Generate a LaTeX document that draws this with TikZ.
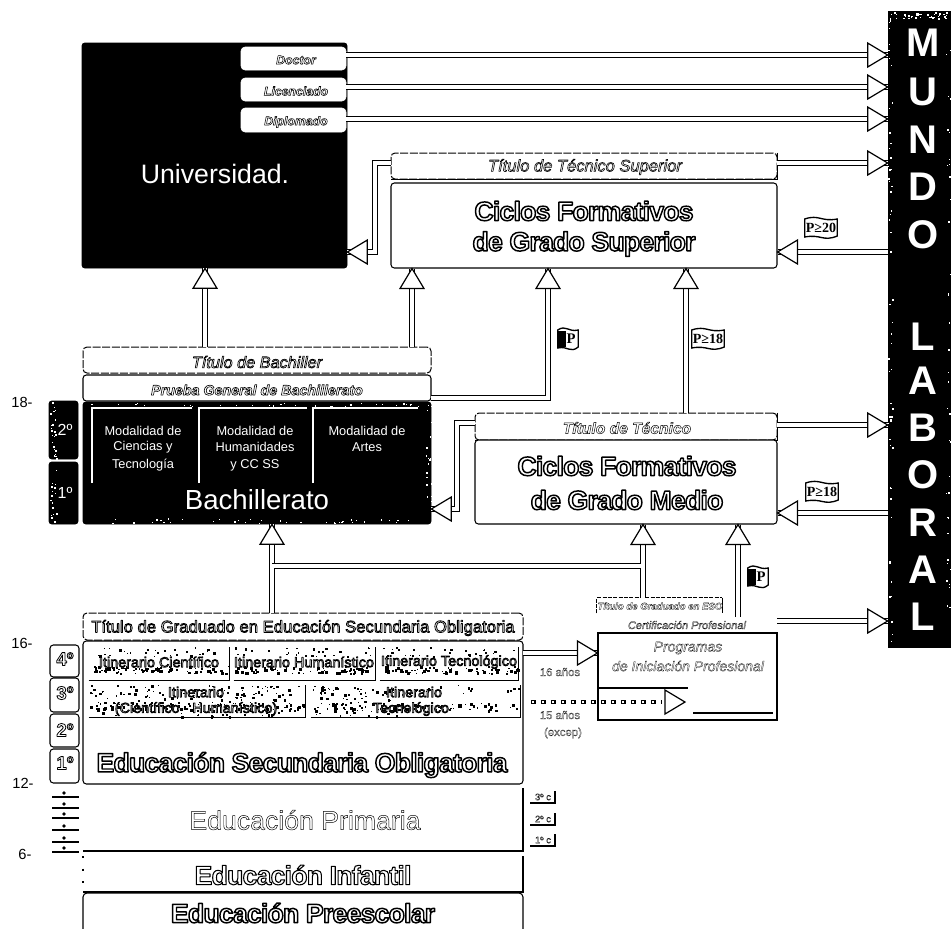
\documentclass[tikz,border=0pt]{standalone}
\usepackage{fontspec}
\setmainfont{Liberation Sans}
\newfontfamily\serifflag{Liberation Serif}
\newfontfamily\tight[LetterSpace=-3,UprightFont=* Bold]{Liberation Sans}
\usetikzlibrary{calc,decorations.markings}
\newcommand\ol[2][0.7]{{\color{white}\special{pdf:code 2 Tr #1 w 1 j 0 0 0 RG}#2\special{pdf:code 0 Tr}}}
\newcommand\speck[7]{\foreach \i in {1,...,#5}{\pgfmathsetmacro\skx{#1+rnd*(#3-#1)}\pgfmathsetmacro\sky{#2+rnd*(#4-#2)}\pgfmathsetmacro\sks{#7*(0.4+rnd)}\fill[#6] (\skx,\sky) rectangle ++(\sks,\sks);}}
% box: style, name, x1,y1,x2,y2
\newcommand\bx[6]{\node[#1,minimum width={(#5-#3)*0.75pt},minimum height={(#6-#4)*0.75pt}] (#2) at ({(#3+#5)/2},{(#4+#6)/2}) {};}
\newcommand\fs[1]{\fontsize{#1}{#1}\selectfont}
\newcommand\flagshape[1]{($(#1.west)+(0,-9)$) .. controls ($(#1.north)+(-2,-7)$) and ($(#1.north)+(0,1)$) .. ($(#1.east)+(0,-9)$) -- ($(#1.east)+(0,8)$) .. controls ($(#1.south)+(2,7)$) and ($(#1.south)+(0,-1)$) .. ($(#1.west)+(0,9)$) -- cycle}
\newcommand\flag[5]{% name,x,y,halfwidth,text
  \node[inner sep=0,minimum width={2*#4*0.75pt},minimum height=10pt] (#1) at (#2,#3) {};
  \draw[line width=1pt,fill=white] \flagshape{#1};
  \node[lbl,font=\serifflag\bfseries\fs{10.5}] at (#1.center) {#5};}
\newcommand\pflag[4]{% name,x,y,halfwidth : black left side, P on the right
  \node[inner sep=0,minimum width={2*#4*0.75pt},minimum height=11pt] (#1) at (#2,#3) {};
  \draw[line width=1pt,fill=white] \flagshape{#1};
  \fill ($(#1.west)+(0,-8)$) rectangle ($(#1.center)+(-2,8)$);
  \node[lbl,font=\serifflag\bfseries\fs{11}] at ($(#1.center)+(3,0)$) {P};}
\tikzset{
  lbl/.style={inner sep=0,align=center},
  edge/.style={draw=black,line width=0.8pt},
  solidbox/.style={edge,rounded corners=2.5pt,inner sep=0,fill=white},
  titlebox/.style={draw=black,line width=0.75pt,dash pattern=on 6pt off 1.2pt,rounded corners=3pt,inner sep=0,fill=white},
  blackbox/.style={draw=black,fill=black,rounded corners=2pt,inner sep=0,line width=0.5pt},
  whitebox/.style={fill=white,draw=white,rounded corners=3pt,inner sep=0},
  pipe/.style={preaction={draw=black,line width=4.7pt},draw=white,line width=2.7pt},
  harrow/.style={pipe,postaction={decorate,decoration={markings,mark=at position 1 with {\draw[black,fill=white,line width=0.9pt,miter limit=3] (-15pt,-9pt)--(0,0)--(-15pt,9pt)--cycle;}}}},
  core/.style={draw=white,line width=2.7pt},
}
\begin{document}
\begin{tikzpicture}[x=0.75pt,y=-0.75pt]
\useasboundingbox (0,0) rectangle (951,929);
\pgfmathsetseed{4711}
% MUNDO LABORAL
\bx{blackbox,rounded corners=0pt}{mundo}{888}{11}{951}{647}
\speck{890}{12}{950}{18}{35}{white}{1.6}
\speck{888}{18}{892}{647}{60}{white}{1.4}
\speck{946}{18}{951}{647}{40}{white}{1.4}
\foreach \n/\l/\yy in {m1/M/43,m2/U/92,m3/N/140,m4/D/187,m5/O/235,m6/L/337,m7/A/381,m8/B/428,m9/O/475,m10/R/523,m11/A/570,m12/L/617}{
  \node[lbl,text=white,font=\bfseries\fs{30}] (\n) at (923,\yy) {\l};
}
% Universidad
\bx{blackbox}{uni}{82}{43}{347}{268}
\bx{whitebox}{doctor}{241}{47}{346}{70}
\bx{whitebox}{lic}{241}{78}{346}{101}
\bx{whitebox}{dipl}{241}{108}{346}{132}
\node[lbl,font=\itshape\bfseries\fs{9.2}] at (296,60) {\ol[0.4]{Doctor}};
\node[lbl,font=\itshape\bfseries\fs{9.2}] at (296,91) {\ol[0.4]{Licenciado}};
\node[lbl,font=\itshape\bfseries\fs{9.2}] at (296,122) {\ol[0.4]{Diplomado}};
\node[lbl,text=white,font=\fs{20}] (unitext) at (215,174) {Universidad.};
% Ciclos superior
\bx{titlebox}{tsup}{391}{153}{777}{179}
\draw[edge] (tsup.north east) -- (tsup.south east) -- (tsup.south west);
\bx{solidbox}{csup}{391}{183}{777}{268}
\node[lbl,font=\fs{12.4}\itshape] (tsupt) at (585,167) {\ol[0.45]{Título de Técnico Superior}};
\node[lbl,font=\tight\fs{20}] (c1) at (584,211) {\ol[1.1]{Ciclos Formativos}};
\node[lbl,font=\tight\fs{20}] (c2) at (584,244) {\ol[1.1]{de Grado Superior}};
% Bachiller
\bx{titlebox}{tbach}{83}{347}{431}{373}
\bx{solidbox}{prueba}{83}{375}{431}{401}
\bx{blackbox}{bach}{83}{402}{431}{524}
\bx{blackbox}{yb2}{49}{401}{78}{459}
\bx{blackbox}{yb1}{49}{462}{78}{524}
\speck{50}{402}{56}{522}{40}{white}{1.5}
\speck{85}{403}{430}{406}{30}{white}{1.1}
\speck{110}{518}{430}{523}{40}{white}{1.2}
\speck{425}{403}{431}{523}{18}{white}{1.5}
\node[lbl,font=\fs{12.2}] at (257,362) {\ol[0.5]{\itshape Título de Bachiller}};
\node[lbl,font=\fs{10.7}\bfseries\itshape] at (257,390) {\ol[0.45]{Prueba General de Bachillerato}};
\node[lbl,text=white,font=\fs{12}] at (65,430) {2º};
\node[lbl,text=white,font=\fs{12}] at (65,493) {1º};
\coordinate (mtop1) at (92,408); \coordinate (mtop2) at (199,408); \coordinate (mtop3) at (313,408);
\draw[white,line width=0.8pt] (92,483) -- (mtop1) -- (192,408) (199,483) -- (mtop2) -- (307,408) (313,483) -- (mtop3) -- (418,408);
\node[lbl,text=white,font=\fs{9.6}] at (143,431) {Modalidad de};
\node[lbl,text=white,font=\fs{9.6}] at (143,447) {Ciencias y};
\node[lbl,text=white,font=\fs{9.6}] at (143,465) {Tecnología};
\node[lbl,text=white,font=\fs{9.6}] at (255,431) {Modalidad de};
\node[lbl,text=white,font=\fs{9.6}] at (255,447) {Humanidades};
\node[lbl,text=white,font=\fs{9.6}] at (255,465) {y  CC SS};
\node[lbl,text=white,font=\fs{9.6}] at (367,431) {Modalidad de};
\node[lbl,text=white,font=\fs{9.6}] at (367,447) {Artes};
\node[lbl,text=white,font=\fs{20.7}] at (257,500) {Bachillerato};
% Ciclos medio
\bx{titlebox}{ttec}{475}{413}{777}{440}
\draw[edge] (ttec.north east) -- (ttec.south east) -- (ttec.south west);
\bx{solidbox}{cmed}{475}{440}{777}{524}
\node[lbl,font=\fs{11.7}\bfseries\itshape] at (627,428) {\ol[0.35]{Título de Técnico}};
\node[lbl,font=\tight\fs{20}] at (627,466) {\ol[1.1]{Ciclos Formativos}};
\node[lbl,font=\tight\fs{20}] at (627,500) {\ol[1.1]{de Grado Medio}};
% ESO
\bx{titlebox}{tgrad}{83}{613}{523}{640}
\bx{solidbox}{eso}{83}{641}{523}{784}
\node[lbl,font=\fs{12.5}] at (303,628) {\ol[0.6]{Título de Graduado en Educación Secundaria Obligatoria}};
% Itinerarios
\foreach \n/\a/\b/\c/\d in {it1/89/647/229/680,it2/234/647/375/680,it3/380/647/518/680,it4/89/685/305/717,it5/311/685/520/717}{
  \bx{inner sep=0}{\n}{\a}{\b}{\c}{\d}
  \speck{\a}{\b}{\c}{\b+9}{28}{black}{2}
  \speck{\a}{\d-7}{\c}{\d}{70}{black}{2.4}
  \draw[edge] (\n.south west) -- (\n.south east) -- (\n.north east);
}
\speck{89}{685}{300}{717}{130}{black}{2}
\speck{311}{685}{400}{717}{80}{black}{2}
\node[lbl,font=\fs{10.8}] at (159,662) {\ol[0.55]{Itinerario Científico}};
\node[lbl,font=\fs{10.8}] at (304,662) {\ol[0.55]{Itinerario Humanístico}};
\node[lbl,font=\fs{10.8}] at (449,662) {\ol[0.55]{Itinerario Tecnológico}};
\node[lbl,font=\fs{10.8}] at (196,692) {\ol[0.55]{Itinerario}};
\node[lbl,font=\fs{10.8}] at (196,709) {\ol[0.55]{(Científico - Humanístico)}};
\node[lbl,font=\fs{10.8}] at (414,692) {\ol[0.55]{Itinerario}};
\node[lbl,font=\fs{10.8}] at (411,709) {\ol[0.55]{Tecnológico}};
\node[lbl,font=\tight\fs{20}] at (302,765) {\ol[1.1]{Educación Secundaria Obligatoria}};
% year boxes
\foreach \n/\a/\b/\t/\m in {y4/645/677/4º/659,y3/678/712/3º/693,y2/714/747/2º/730,y1/749/783/1º/763}{
  \bx{solidbox}{\n}{50}{\a}{79}{\b}
  \node[lbl,font=\bfseries\fs{14}] at (65,\m) {\ol[0.6]{\t}};
}
% Primaria, infantil, preescolar
\coordinate (prim-sw) at (83,851); \coordinate (prim-se) at (523,851); \coordinate (prim-ne) at (523,788);
\draw[edge] (prim-sw) -- (prim-se) -- (prim-ne);
\node[lbl,font=\fs{20}] at (305,820) {\ol[0.35]{Educación Primaria}};
\foreach \yy in {797,808,818,830,842,852}{
  \draw[edge] (52,\yy) -- (79,\yy);
  \fill (64,\yy-4) circle (1.8);
}
\foreach \yy/\t in {803/3º c,825/2º c,846/1º c}{
  \draw[edge] (530,\yy) -- (555,\yy) -- (555,\yy-12);
  \node[lbl,font=\fs{7}] at (543,\yy-6) {\ol[0.2]{\t}};
}
\coordinate (inf-nw) at (83,856); \coordinate (inf-sw) at (83,892); \coordinate (inf-se) at (523,892); \coordinate (inf-ne) at (523,856);
\draw[edge] (inf-sw) -- (inf-se) -- (inf-ne);
\draw[edge,dash pattern=on 1.5pt off 8pt] (inf-nw) -- (inf-sw);
\node[lbl,font=\tight\fs{20}] at (303,875) {\ol[0.8]{Educación Infantil}};
\coordinate (pre-sw) at (83,929); \coordinate (pre-nw) at (83,893); \coordinate (pre-ne) at (523,893); \coordinate (pre-se) at (523,929);
\draw[edge,rounded corners=3pt] (pre-sw) -- (pre-nw) -- (pre-ne) -- (pre-se);
\node[lbl,font=\tight\fs{20}] at (303,913) {\ol[1.1]{Educación Preescolar}};
% ages
\node[lbl,font=\fs{11}] at (22,402) {18-};
\node[lbl,font=\fs{11}] at (22,643) {16-};
\node[lbl,font=\fs{11}] at (23,783) {12-};
\node[lbl,font=\fs{11}] at (25,854) {6-};
% Programas
\bx{solidbox,rounded corners=0pt}{prog}{598}{633}{777}{720}
\node[lbl,font=\itshape\fs{10.5}] at (688,648) {\ol[0.2]{Programas}};
\node[lbl,font=\itshape\fs{10.5}] at (688,666) {\ol[0.2]{de Iniciación Profesional}};
\coordinate (pl1) at (598,688); \coordinate (pl2) at (688,688);
\draw[edge] (pl1) -- (pl2);
\coordinate (pb1) at (693,713); \coordinate (pb2) at (773,713);
\draw[edge] (pb1) -- (pb2);
\bx{draw=none,fill=white,inner sep=0}{tged}{597}{598}{722}{613}
\draw[edge,dash pattern=on 3pt off 1pt] (tged.south west) -- (tged.north west) -- (tged.north east);
\draw[edge] (tged.north east) -- (tged.south east);
\node[lbl,font=\bfseries\itshape\fs{7.2}] at (660,606) {\ol[0.2]{Título de Graduado en ESO}};
\node[lbl,font=\itshape\fs{8.2}] (cert) at (687,625) {\ol[0.2]{Certificación Profesional}};
\node[lbl,font=\fs{8.5}] at (560,672) {\ol[0.15]{16 años}};
\node[lbl,font=\fs{8.5}] at (560,715) {\ol[0.15]{15 años}};
\node[lbl,font=\fs{8.5}] at (563,733) {\ol[0.15]{(excep)}};
% connectors
\foreach \c/\yy/\n in {a1/55/doctor,a2/87/lic,a3/119/dipl}{
  \coordinate (\c) at (346,\yy);
  \draw[harrow] (\c) -- (\c -| mundo.west);
}
\coordinate (a4) at (777,163);
\draw[harrow] (a4) -- (a4 -| mundo.west);
\coordinate (a5) at (777,425);
\draw[harrow] (a5) -- (a5 -| mundo.west);
\coordinate (a6) at (777,621);
\draw[harrow] (a6) -- (a6 -| mundo.west);
\coordinate (b1) at (888,252);
\draw[harrow] (b1) -- (b1 -| csup.east);
\coordinate (b2) at (888,513);
\draw[harrow] (b2) -- (b2 -| cmed.east);
% Técnico superior to universidad
\coordinate (c1a) at (391,163); \coordinate (c1b) at (375,163); \coordinate (c1c) at (375,252);
\draw[harrow] (c1a) -- (c1b) -- (c1c) -- (c1c -| uni.east);
\coordinate (c2a) at (475,423); \coordinate (c2b) at (457,423); \coordinate (c2c) at (457,509);
\draw[harrow] (c2a) -- (c2b) -- (c2c) -- (c2c -| bach.east);
% bachiller up
\coordinate (d1) at (205,347);
\draw[harrow] (d1) -- (d1 |- uni.south);
\coordinate (d2) at (412,347);
\draw[harrow] (d2) -- (d2 |- csup.south);
\coordinate (d3a) at (431,398); \coordinate (d3b) at (548,398);
\draw[harrow] (d3a) -- (d3b) -- (d3b |- csup.south);
\coordinate (d4) at (686,413);
\draw[harrow] (d4) -- (d4 |- csup.south);
% ESO up
\coordinate (e1) at (272,613); \coordinate (e2) at (272,566); \coordinate (e3) at (643,566); \coordinate (e4) at (643,598);
\draw[harrow] (e1) -- (e1 |- bach.south);
\draw[harrow] (e2) -- (e3) -- (e3 |- cmed.south);
\draw[pipe] (e4) -- (e3);
\draw[core] (272,569) -- (e2) -- (275,566);
\draw[core] (643,569) -- (e3) -- (640,566);
\coordinate (f1) at (738,617);
\draw[harrow] (f1) -- (f1 |- cmed.south);
\coordinate (g1) at (523,653);
\draw[harrow] (g1) -- (g1 -| prog.west);
% dotted arrow
\coordinate (h1) at (531,702); \coordinate (h2) at (685,702);
\draw[black,fill=white,line width=0.9pt] (665,690) -- (h2) -- (665,714) -- cycle;
\draw[black,line width=3.2pt,dash pattern=on 3.4pt off 4.1pt] (h1) -- (662,702);
\draw[white,line width=1.3pt,dash pattern=on 1.4pt off 6.1pt,dash phase=-1pt] (h1) -- (662,702);
% flags
\flag{fl1}{821}{228}{16}{P≥20}
\flag{fl2}{822}{492}{16}{P≥18}
\flag{fl3}{708}{339}{16}{P≥18}
\pflag{fl4}{568}{339}{10}
\pflag{fl5}{758}{577}{10}
\end{tikzpicture}
\end{document}
